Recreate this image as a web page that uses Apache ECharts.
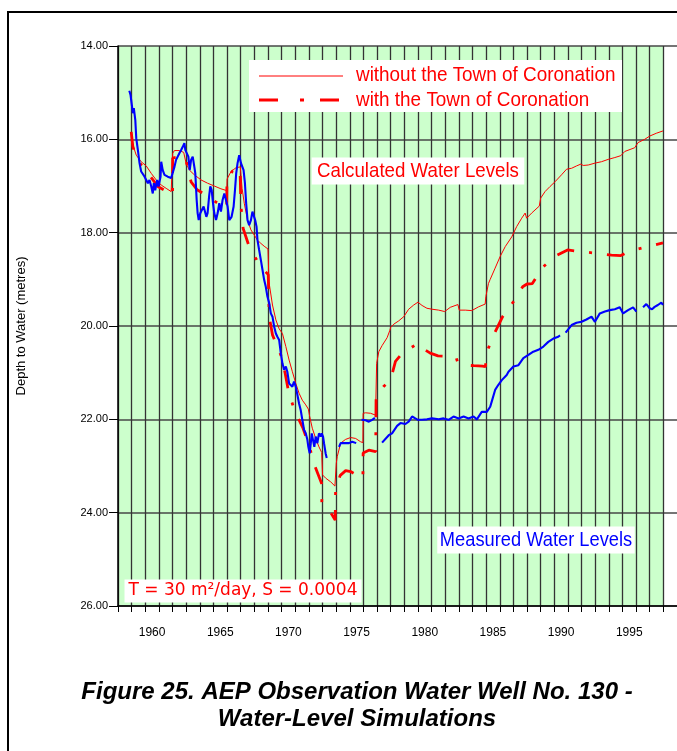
<!DOCTYPE html>
<html><head><meta charset="utf-8">
<script src="https://cdn.jsdelivr.net/npm/echarts@6/dist/echarts.min.js"></script>
<style>html,body{margin:0;padding:0;background:#fff}#c{width:677px;height:751px}</style>
</head><body><div id="c"></div>
<script>
// ---- data (year, depth to water in metres) ----
const xLabelYears = [1960, 1965, 1970, 1975, 1980, 1985, 1990, 1995];
const yTickValues = [14, 16, 18, 20, 22, 24, 26];

const measured = [
[1958.83,14.96],[1958.92,15.05],[1959.09,15.44],[1959.16,15.33],[1959.27,15.59],[1959.34,15.98],[1959.46,16.23],[1959.58,16.51],[1959.70,16.69],[1959.95,16.80],
[1960.07,16.76],[1960.19,16.94],[1960.31,16.87],[1960.44,17.01],[1960.55,17.16],[1960.63,16.94],[1960.73,17.09],[1960.87,16.87],[1960.97,17.01],[1961.12,16.80],
[1961.17,16.48],[1961.28,16.66],[1961.41,16.76],[1961.53,16.73],[1961.65,16.80],[1961.77,16.76],[1961.90,16.83],[1962.01,16.87],[1962.14,16.59],[1962.26,16.44],
[1962.38,16.48],[1962.50,16.30],[1962.63,16.23],[1962.75,16.16],[1962.87,16.08],[1962.94,16.23],[1963.04,16.26],[1963.16,16.37],[1963.26,16.66],[1963.36,16.44],
[1963.48,16.37],[1963.60,16.59],[1963.67,16.73],[1963.77,17.30],[1963.84,17.58],[1963.92,17.73],[1964.04,17.58],[1964.14,17.55],[1964.28,17.44],[1964.38,17.44],
[1964.48,17.66],[1964.57,17.58],[1964.68,17.23],[1964.77,17.01],[1964.87,17.09],[1964.97,17.37],[1965.06,17.58],[1965.19,17.73],[1965.31,17.58],[1965.43,17.37],
[1965.55,17.55],[1965.67,17.30],[1965.80,17.16],[1965.92,17.30],[1966.04,17.44],[1966.16,17.73],[1966.33,17.66],[1966.48,17.44],[1966.58,17.09],[1966.67,16.73],
[1966.77,16.51],[1966.89,16.34],[1967.02,16.51],[1967.13,16.48],[1967.21,16.66],[1967.31,16.94],[1967.40,17.37],[1967.50,17.73],[1967.62,17.84],[1967.75,17.73],
[1967.86,17.55],[1967.99,17.51],[1968.06,17.73],[1968.16,17.87],[1968.23,18.16],[1968.35,18.37],[1968.48,18.59],[1968.60,18.80],[1968.72,19.01],[1968.84,19.16],
[1968.96,19.37],[1969.09,19.51],[1969.21,19.73],[1969.33,19.80],[1969.45,20.01],[1969.58,20.16],[1969.69,20.23],[1969.82,20.30],[1969.94,20.58],[1970.06,20.80],
[1970.18,20.94],[1970.31,20.87],[1970.42,20.98],[1970.55,21.23],[1970.67,21.23],[1970.79,21.30],[1970.91,21.19],[1971.04,21.30],[1971.16,21.48],[1971.28,21.66],
[1971.40,21.80],[1971.52,22.01],[1971.65,22.23],[1971.77,22.30],[1971.89,22.44],[1971.96,22.59],[1972.06,22.73],[1972.14,22.51],[1972.21,22.30],[1972.30,22.44],
[1972.40,22.59],[1972.50,22.37],[1972.62,22.51],[1972.74,22.30],[1972.87,22.37],[1972.94,22.30],[1973.04,22.37],[1973.11,22.51],[1973.23,22.73],[1973.31,22.83],
[1973.80,'-'],
[1974.21,22.59],[1974.33,22.51],[1974.45,22.55],[1974.69,22.51],[1974.94,22.51],[1975.18,22.48],[1975.30,22.44],[1975.47,22.51],
[1975.65,'-'],
[1975.86,22.01],[1976.16,22.02],[1976.40,22.05],[1976.64,22.01],[1976.84,21.97],
[1977.10,'-'],
[1977.37,22.50],[1977.86,22.34],[1978.10,22.30],[1978.47,22.14],[1978.72,22.08],[1979.08,22.10],[1979.32,22.05],[1979.57,21.94],[1979.81,21.98],
[1980.00,22.01],[1980.30,22.01],[1980.66,22.00],[1981.03,21.98],[1981.52,22.00],[1981.88,21.98],[1982.25,22.01],[1982.61,21.94],[1982.98,21.98],[1983.35,21.94],
[1983.71,21.98],[1984.08,21.94],[1984.32,22.00],[1984.68,21.84],[1985.05,21.84],[1985.30,21.73],[1985.41,21.62],[1985.66,21.37],[1985.90,21.26],[1986.15,21.16],
[1986.51,21.05],[1986.64,20.98],[1987.00,20.87],[1987.37,20.84],[1987.73,20.69],[1988.10,20.62],[1988.46,20.55],[1988.83,20.51],[1989.20,20.44],[1989.56,20.34],
[1989.93,20.27],[1990.29,20.23],[1990.42,20.20],
[1990.60,'-'],
[1990.83,20.14],[1991.27,19.98],[1991.63,19.93],[1992.00,19.91],[1992.36,19.86],[1992.73,19.80],[1992.98,19.91],[1993.34,19.73],[1993.71,19.69],[1994.07,19.66],
[1994.44,19.64],[1994.80,19.60],[1995.05,19.73],[1995.41,19.66],[1995.78,19.60],[1996.02,19.69],
[1996.30,'-'],
[1996.51,19.60],[1996.75,19.53],[1997.00,19.62],[1997.17,19.64],[1997.36,19.59],[1997.60,19.55],[1997.85,19.50],[1997.97,19.55]
];

const calcWithout = [
[1958.97,15.84],[1959.09,16.12],[1959.34,16.34],[1959.70,16.48],[1960.07,16.57],[1960.44,16.73],[1960.80,16.87],[1961.17,16.98],[1961.53,17.05],[1961.90,17.12],
[1962.00,17.14],[1962.01,16.30],[1962.14,16.24],[1962.50,16.24],[1962.82,16.28],[1962.99,16.51],[1963.24,16.66],[1963.60,16.76],[1964.09,16.87],[1964.57,16.94],
[1965.06,17.00],[1965.55,17.06],[1965.98,17.10],[1966.00,16.85],[1966.29,16.69],[1966.65,16.61],[1966.97,16.59],[1967.10,17.05],[1967.26,17.37],[1967.50,17.73],
[1967.75,17.94],[1967.99,18.05],[1968.23,18.16],[1968.48,18.23],[1968.72,18.29],[1969.00,18.35],[1969.07,19.05],[1969.33,19.55],[1969.58,19.87],[1969.82,20.06],
[1970.06,20.16],[1970.31,20.44],[1970.55,20.73],[1970.79,20.98],[1971.04,21.23],[1971.28,21.44],[1971.52,21.59],[1971.77,21.69],[1971.96,21.78],[1972.06,21.94],
[1972.25,22.19],[1972.50,22.41],[1972.74,22.59],[1972.94,22.71],[1972.98,22.73],[1973.00,23.19],[1973.23,23.26],[1973.60,23.34],[1973.91,23.43],[1973.95,23.45],
[1974.01,22.94],[1974.08,22.80],[1974.33,22.51],[1974.69,22.43],[1975.06,22.39],[1975.43,22.41],[1975.79,22.48],[1975.96,22.50],[1975.98,21.87],[1976.16,21.86],
[1976.52,21.87],[1976.89,21.91],[1976.95,21.92],[1976.97,20.80],[1977.13,20.55],[1977.37,20.42],[1977.74,20.25],[1977.93,20.10],[1978.00,20.03],[1978.23,19.96],
[1978.59,19.89],[1978.96,19.80],[1979.32,19.64],[1979.69,19.55],[1980.00,19.49],[1980.30,19.56],[1980.66,19.62],[1981.03,19.64],[1981.52,19.66],[1981.96,19.69],
[1982.37,19.60],[1982.93,19.54],[1983.03,19.66],[1983.47,19.66],[1983.95,19.67],[1984.44,19.59],[1984.93,19.53],[1984.98,19.37],[1985.17,19.09],[1985.30,19.00],
[1985.66,18.76],[1986.03,18.51],[1986.40,18.30],[1986.88,18.09],[1987.24,17.87],[1987.61,17.69],[1987.86,17.58],[1987.97,17.69],[1988.34,17.58],[1988.90,17.43],
[1989.00,17.26],[1989.32,17.12],[1989.69,17.01],[1990.05,16.91],[1990.53,16.76],[1990.90,16.64],[1991.27,16.62],[1991.63,16.57],[1991.95,16.53],[1992.12,16.56],
[1992.49,16.55],[1992.98,16.51],[1993.46,16.48],[1993.95,16.43],[1994.44,16.39],[1994.88,16.35],[1995.17,16.26],[1995.90,16.18],[1996.14,16.07],[1996.63,16.00],
[1997.00,15.93],[1997.48,15.87],[1997.97,15.82]
];

const calcWith = [
[1958.97,15.84],[1959.09,16.16],[1959.34,16.38],[1959.70,16.55],[1960.07,16.68],[1960.44,16.82],[1960.92,17.01],[1961.35,17.08],[1961.77,17.14],[1962.00,17.20],
[1962.01,16.40],[1962.50,16.37],[1962.94,16.38],[1963.10,16.60],[1963.36,16.91],[1963.80,17.08],[1964.45,17.19],[1965.00,17.31],[1965.55,17.41],[1965.97,17.48],
[1965.99,16.85],[1966.40,16.68],[1966.95,16.62],[1967.02,17.44],[1967.18,17.91],[1967.62,18.30],[1968.28,18.64],[1968.70,18.80],[1969.02,18.90],[1969.09,19.80],
[1969.33,20.19],[1969.94,20.62],[1970.26,21.01],[1970.53,21.44],[1970.99,21.84],[1971.57,22.19],[1972.00,22.55],[1972.45,23.01],[1972.93,23.37],[1972.95,23.80],
[1973.50,23.95],[1973.93,24.16],[1973.96,23.50],[1974.30,23.20],[1974.70,23.10],[1975.06,23.12],[1975.50,23.19],[1975.96,23.27],[1975.98,22.72],[1976.40,22.66],
[1976.90,22.69],[1976.93,21.50],[1977.08,21.44],[1977.50,21.29],[1977.99,21.16],[1978.35,20.76],[1978.80,20.60],[1979.32,20.50],[1980.00,20.37],[1980.35,20.48],
[1980.90,20.58],[1981.47,20.64],[1982.10,20.65],[1982.78,20.66],[1982.93,20.79],[1983.51,20.84],[1984.10,20.85],[1984.73,20.86],[1984.95,20.87],[1985.00,20.65],
[1985.12,20.51],[1985.61,20.16],[1986.21,19.80],[1987.00,19.48],[1987.68,19.16],[1988.00,19.10],[1988.39,19.09],[1989.12,18.75],[1990.10,18.50],[1990.97,18.37],
[1991.50,18.39],[1992.19,18.41],[1993.51,18.46],[1994.20,18.48],[1994.88,18.49],[1995.50,18.40],[1996.02,18.36],[1997.24,18.27],[1997.97,18.22]
];

const seriesNames = ['without the Town of Coronation', 'with the Town of Coronation', 'Measured Water Levels'];
const yAxisTitle = 'Depth to Water (metres)';
const figureTitle = 'Figure 25. AEP Observation Water Well No. 130 -\nWater-Level Simulations';
const xStart = 1958, xGreenEnd = 1998, xEnd = 1999;

// gridline years (every year across the plot)
const gridYears = [];
for (let y = xStart; y <= xGreenEnd; y++) gridYears.push(y);

const chart = echarts.init(document.getElementById('c'), null, {renderer: 'canvas'});
const sans = "'Liberation Sans',Arial,sans-serif";
const withDash = [18, 15, 3, 15];

chart.setOption({
  animation: false,
  backgroundColor: '#ffffff',
  title: {
    text: figureTitle,
    left: 352, top: 674, textAlign: 'center',
    textStyle: {fontFamily: sans, fontWeight: 'bold', fontStyle: 'italic', fontSize: 24, lineHeight: 27, color: '#000'}
  },
  grid: {left: 118, top: 46, width: 561, height: 560, containLabel: false},
  xAxis: {
    type: 'value', min: xStart, max: xEnd, interval: 1, z: 3,
    axisLine: {show: true, onZero: false, lineStyle: {color: '#000', width: 1.5}},
    axisTick: {show: true, customValues: gridYears, length: 6, lineStyle: {color: '#000', width: 1}},
    axisLabel: {
      customValues: xLabelYears.map(v => v + 0.5),
      formatter: v => String(Math.floor(v)),
      margin: 21, fontFamily: sans, fontSize: 12, color: '#000'
    },
    splitLine: {show: true, lineStyle: {color: '#333333', width: 1.3}}
  },
  yAxis: {
    type: 'value', inverse: true, min: 14, max: 26, interval: 2, z: 3,
    name: yAxisTitle, nameLocation: 'middle', nameGap: 90, nameRotate: 90,
    nameTextStyle: {fontFamily: sans, fontSize: 13, color: '#000'},
    axisLine: {show: true, lineStyle: {color: '#000', width: 1.5}},
    axisTick: {show: true, length: 9, lineStyle: {color: '#000', width: 1}},
    axisLabel: {formatter: v => v.toFixed(2), margin: 10, fontFamily: sans, fontSize: 11, color: '#000'},
    splitLine: {show: true, lineStyle: {color: '#474747', width: 1.6}}
  },
  series: [
    {
      name: 'background', type: 'line', data: [], z: 1, silent: true,
      markArea: {silent: true, z: 1, itemStyle: {color: '#ccffcc'},
        data: [[{coord: [xStart, 14]}, {coord: [xGreenEnd, 26]}]]}
    },
    {
      name: seriesNames[0], type: 'line', data: calcWithout, z: 5,
      symbol: 'none', showSymbol: false, connectNulls: false,
      lineStyle: {color: '#ff0000', width: 1}
    },
    {
      name: seriesNames[1], type: 'line', data: calcWith, z: 5,
      symbol: 'none', showSymbol: false, connectNulls: false,
      lineStyle: {color: '#ff0000', width: 2.8, type: withDash, cap: 'butt'}
    },
    {
      name: seriesNames[2], type: 'line', data: measured, z: 6,
      symbol: 'none', showSymbol: false, connectNulls: false,
      lineStyle: {color: '#0000ff', width: 2.1}
    }
  ],
  graphic: [
    {type: 'rect', z: 0, shape: {x: 8, y: 12, width: 720, height: 800}, style: {fill: null, stroke: '#000', lineWidth: 2}},
    // legend box
    {type: 'rect', z: 100, shape: {x: 249, y: 60, width: 373, height: 52}, style: {fill: '#ffffff'}},
    {type: 'line', z: 101, shape: {x1: 259, y1: 76, x2: 343, y2: 76}, style: {stroke: '#ff0000', lineWidth: 1}},
    {type: 'line', z: 101, shape: {x1: 259, y1: 100, x2: 339, y2: 100}, style: {stroke: '#ff0000', lineWidth: 2.8, lineDash: [19, 22, 4, 16]}},
    {type: 'text', z: 101, x: 356, y: 75, scaleX: 0.9, style: {
      text: seriesNames[0], fill: '#ff0000', font: "21px " + sans, align: 'left', verticalAlign: 'middle'}},
    {type: 'text', z: 101, x: 356, y: 100, scaleX: 0.9, style: {
      text: seriesNames[1], fill: '#ff0000', font: "21px " + sans, align: 'left', verticalAlign: 'middle'}},
    {type: 'text', z: 100, x: 418, y: 171, scaleX: 0.89, style: {
      text: 'Calculated Water Levels', fill: '#ff0000', font: "21px " + sans,
      align: 'center', verticalAlign: 'middle', backgroundColor: '#ffffff', padding: [3, 6, 3, 6]}},
    {type: 'text', z: 100, x: 536, y: 540, scaleX: 0.87, style: {
      text: 'Measured Water Levels', fill: '#0000ff', font: "21px " + sans,
      align: 'center', verticalAlign: 'middle', backgroundColor: '#ffffff', padding: [3, 3, 3, 3]}},
    {type: 'text', z: 100, x: 243, y: 591, style: {
      text: 'T = 30 m²/day, S = 0.0004', fill: '#ff0000', font: "17px 'DejaVu Sans',sans-serif",
      align: 'center', verticalAlign: 'middle', backgroundColor: '#ffffff', padding: [3, 4, 3, 4]}}
  ]
});
</script></body></html>
